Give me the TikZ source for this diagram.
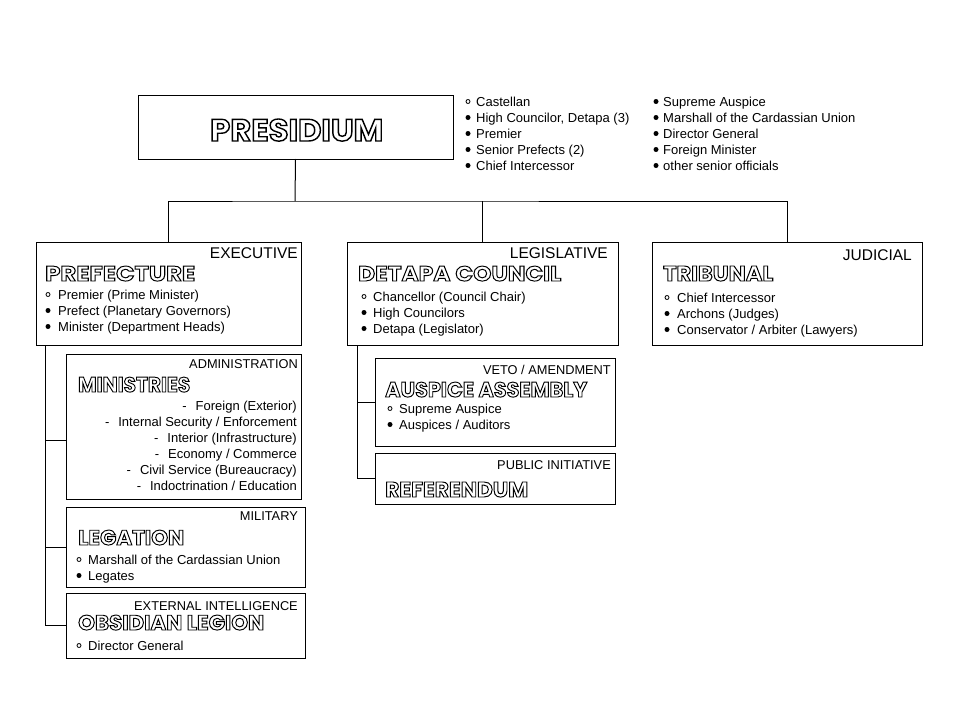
\documentclass[tikz,border=0pt]{standalone}
\usepackage{fontspec}
\setmainfont{Liberation Sans}
\newfontfamily\ttlfont{Poppins}
\usepackage{graphicx}
\newcommand\outl[1]{\special{pdf:literal direct 1 Tr 0.9 w}#1\special{pdf:literal direct 0 Tr}}
\newcommand\ttl[3]{\resizebox{#1pt}{#2pt}{\ttlfont\bfseries\fontsize{20}{20}\selectfont\outl{#3}}}
\tikzset{
  boxnode/.style={draw, line width=1pt, anchor=north west, inner sep=0pt, outer sep=0pt},
  conn/.style={draw, line width=1pt},
  txt/.style={inner sep=0pt, font=\fontsize{13}{16}\selectfont, anchor=base west},
  rtxt/.style={txt, anchor=base east},
  lbl/.style={inner sep=0pt, font=\fontsize{12.8}{15}\selectfont, anchor=base east},
  biglbl/.style={lbl, font=\fontsize{15.5}{18}\selectfont},
  ttlnode/.style={inner sep=0pt, anchor=base west},
  obul/.style={circle, draw, line width=0.8pt, inner sep=0pt, minimum size=4pt},
  fbul/.style={circle, fill, inner sep=0pt, minimum size=5pt},
}
% name, kind (o/f), bullet x, text x, baseline, text
\newcommand\bl[6]{%
  \if o#2\node[obul] (#1b) at (#3,#5-4.5) {};\else\node[fbul] (#1b) at (#3,#5-4.5) {};\fi
  \node[txt] (#1) at (#4,#5) {#6};}
\begin{document}
\begin{tikzpicture}[x=1pt,y=-1pt]
\fill[white] (0,0) rectangle (960,720);
\useasboundingbox (0,0) rectangle (960,720);

% boxes
\node[boxnode, minimum width=315pt, minimum height=64pt] (pres) at (138,95) {};
\node[boxnode, minimum width=265pt, minimum height=103pt] (pref) at (36,242) {};
\node[boxnode, minimum width=271pt, minimum height=103pt] (legis) at (347,242) {};
\node[boxnode, minimum width=270pt, minimum height=103pt] (jud) at (652,242) {};
\node[boxnode, minimum width=235pt, minimum height=145pt] (mini) at (66,354) {};
\node[boxnode, minimum width=239pt, minimum height=80pt] (legat) at (66,507) {};
\node[boxnode, minimum width=239pt, minimum height=65pt] (obs) at (66,593) {};
\node[boxnode, minimum width=240pt, minimum height=88pt] (aus) at (375,358) {};
\node[boxnode, minimum width=240pt, minimum height=51pt] (ref) at (375,453) {};

% connectors
\coordinate (bus) at (295,201);
\draw[conn] (pres.south) -- (bus);
\draw[conn] (pref.north) |- (bus) -| (jud.north);
\draw[conn] (legis.north) -- (legis.north |- bus);
\coordinate (ps) at ([xshift=9pt]pref.south west);
\coordinate (minbr) at ([yshift=-13.5pt]mini.west);
\draw[conn] (ps) |- (obs.west);
\draw[conn] (ps |- minbr) -- (minbr);
\draw[conn] (ps |- legat.west) -- (legat.west);
\coordinate (ls) at ([xshift=10pt]legis.south west);
\draw[conn] (ls) |- (ref.west);
\draw[conn] (ls |- aus.west) -- (aus.west);

% titles
\node[ttlnode] (t-pres) at (210,141) {\ttl{173}{22}{PRESIDIUM}};
\node[ttlnode] (t-pref) at (45,281) {\ttl{150}{15}{PREFECTURE}};
\node[ttlnode] (t-legis) at (358,281) {\ttl{203}{15}{DETAPA COUNCIL}};
\node[ttlnode] (t-jud) at (663,281) {\ttl{110}{15}{TRIBUNAL}};
\node[ttlnode] (t-mini) at (78,392) {\ttl{112}{15}{MINISTRIES}};
\node[ttlnode] (t-aus) at (385,397) {\ttl{202}{15}{AUSPICE ASSEMBLY}};
\node[ttlnode] (t-ref) at (385,497) {\ttl{143}{15}{REFERENDUM}};
\node[ttlnode] (t-legat) at (78,545) {\ttl{106}{15}{LEGATION}};
\node[ttlnode] (t-obs) at (78,630) {\ttl{186}{15}{OBSIDIAN LEGION}};

% category labels
\node[biglbl] (l-exec) at (298,258) {EXECUTIVE};
\node[biglbl] (l-legis) at (608,258) {LEGISLATIVE};
\node[biglbl] (l-jud) at (912,260) {JUDICIAL};
\node[lbl] (l-mini) at (298,368) {ADMINISTRATION};
\node[lbl] (l-aus) at (611,374) {VETO / AMENDMENT};
\node[lbl] (l-ref) at (611,469) {PUBLIC INITIATIVE};
\node[lbl] (l-legat) at (298,520) {MILITARY};
\node[lbl] (l-obs) at (298,610) {EXTERNAL INTELLIGENCE};

% presidium lists
\bl{p1}{o}{468}{476}{106}{Castellan}
\bl{p2}{f}{468}{476}{122}{High Councilor, Detapa (3)}
\bl{p3}{f}{468}{476}{138}{Premier}
\bl{p4}{f}{468}{476}{154}{Senior Prefects (2)}
\bl{p5}{f}{468}{476}{170}{Chief Intercessor}
\bl{q1}{f}{656}{663}{106}{Supreme Auspice}
\bl{q2}{f}{656}{663}{122}{Marshall of the Cardassian Union}
\bl{q3}{f}{656}{663}{138}{Director General}
\bl{q4}{f}{656}{663}{154}{Foreign Minister}
\bl{q5}{f}{656}{663}{170}{other senior officials}

% prefecture
\bl{e1}{o}{48}{58}{299}{Premier (Prime Minister)}
\bl{e2}{f}{48}{58}{315}{Prefect (Planetary Governors)}
\bl{e3}{f}{48}{58}{331}{Minister (Department Heads)}
% detapa council
\bl{d1}{o}{364}{373}{301}{Chancellor (Council Chair)}
\bl{d2}{f}{364}{373}{317}{High Councilors}
\bl{d3}{f}{364}{373}{333}{Detapa (Legislator)}
% tribunal
\bl{j1}{o}{667}{677}{302}{Chief Intercessor}
\bl{j2}{f}{667}{677}{318}{Archons (Judges)}
\bl{j3}{f}{667}{677}{334}{Conservator / Arbiter (Lawyers)}
% auspice assembly
\bl{a1}{o}{390}{399}{413}{Supreme Auspice}
\bl{a2}{f}{390}{399}{429}{Auspices / Auditors}
% legation
\bl{g1}{o}{79}{88}{564}{Marshall of the Cardassian Union}
\bl{g2}{f}{79}{88}{580}{Legates}
% obsidian legion
\bl{o1}{o}{79}{88}{650}{Director General}

% ministries
\node[rtxt] (m1) at (297,410) {-\hspace{9pt}Foreign (Exterior)};
\node[rtxt] (m2) at (297,426) {-\hspace{9pt}Internal Security / Enforcement};
\node[rtxt] (m3) at (297,442) {-\hspace{9pt}Interior (Infrastructure)};
\node[rtxt] (m4) at (297,458) {-\hspace{9pt}Economy / Commerce};
\node[rtxt] (m5) at (297,474) {-\hspace{9pt}Civil Service (Bureaucracy)};
\node[rtxt] (m6) at (297,490) {-\hspace{9pt}Indoctrination / Education};
\end{tikzpicture}
\end{document}
